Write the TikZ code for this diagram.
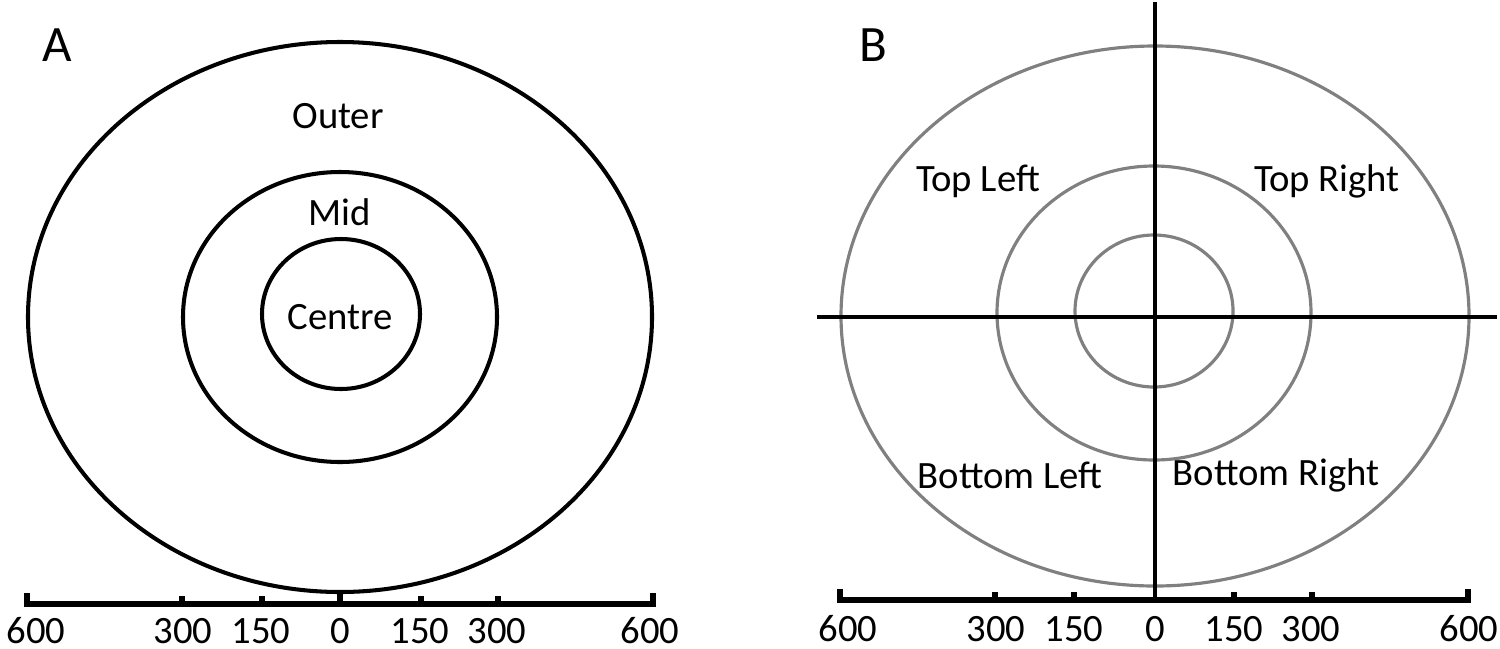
\documentclass[tikz,border=0pt]{standalone}
\usepackage{fontspec}
\setmainfont{Carlito}
\begin{document}
\begin{tikzpicture}[x=0.01cm,y=-0.01cm,
  ringA/.style={draw=black,line width=1.15pt},
  ringB/.style={draw=black!50,line width=0.9pt},
  axisline/.style={draw=black,line width=1.3pt},
  scalebar/.style={draw=black,line width=1.5pt},
  lbl/.style={inner sep=0pt,font=\fontsize{11}{13}\selectfont},
  panel/.style={inner sep=0pt,font=\fontsize{14.5}{16}\selectfont}]
\useasboundingbox (0,0) rectangle (1500,648);
% Panel A
\draw[ringA] (340,317) ellipse [x radius=312, y radius=275];
\draw[ringA] (340,317) ellipse [x radius=157, y radius=145];
\draw[ringA] (341,314) ellipse [x radius=79, y radius=75];
\node[panel] (pA) at (57,45) {A};
\node[lbl] (outer) at (338,116) {Outer};
\node[lbl] (mid) at (340,212) {Mid};
\node[lbl] (centre) at (340,317) {Centre};
% Scale A
\draw[scalebar] (27,593) -- (27,604) -- (653,604) -- (653,593);
\foreach \x in {182,262,421,498} \draw[scalebar] (\x,604) -- (\x,596);
\draw[scalebar] (340,604) -- (340,592);
\node[lbl] (a600l) at (36,631) {600};
\node[lbl] (a300l) at (183,631) {300};
\node[lbl] (a150l) at (261,631) {150};
\node[lbl] (a0) at (340,631) {0};
\node[lbl] (a150r) at (420,631) {150};
\node[lbl] (a300r) at (497,631) {300};
\node[lbl] (a600r) at (650,631) {600};
% Panel B
\draw[ringB] (1155,316) ellipse [x radius=314, y radius=270];
\draw[ringB] (1154,313) ellipse [x radius=157, y radius=147];
\draw[ringB] (1154,311) ellipse [x radius=79, y radius=76];
\coordinate (hl) at (817,317);
\coordinate (hr) at (1497,317);
\coordinate (vt) at (1155,2);
\coordinate (vb) at (1155,598);
\draw[axisline] (hl) -- (hr);
\draw[axisline] (vt) -- (vb);
\node[panel] (pB) at (873,45) {B};
\node[lbl] (tl) at (978,181) {Top Left};
\node[lbl] (tr) at (1327,181) {Top Right};
\node[lbl] (bl) at (1010,475) {Bottom Left};
\node[lbl] (br) at (1276,475) {Bottom Right};
% Scale B
\draw[scalebar] (840,589) -- (840,600) -- (1468,600) -- (1468,589);
\foreach \x in {995,1074,1234,1312} \draw[scalebar] (\x,600) -- (\x,592);
\node[lbl] (b600l) at (848,629) {600};
\node[lbl] (b300l) at (996,629) {300};
\node[lbl] (b150l) at (1074,629) {150};
\node[lbl] (b0) at (1155,629) {0};
\node[lbl] (b150r) at (1234,629) {150};
\node[lbl] (b300r) at (1311,629) {300};
\node[lbl] (b600r) at (1469,629) {600};
\end{tikzpicture}
\end{document}
